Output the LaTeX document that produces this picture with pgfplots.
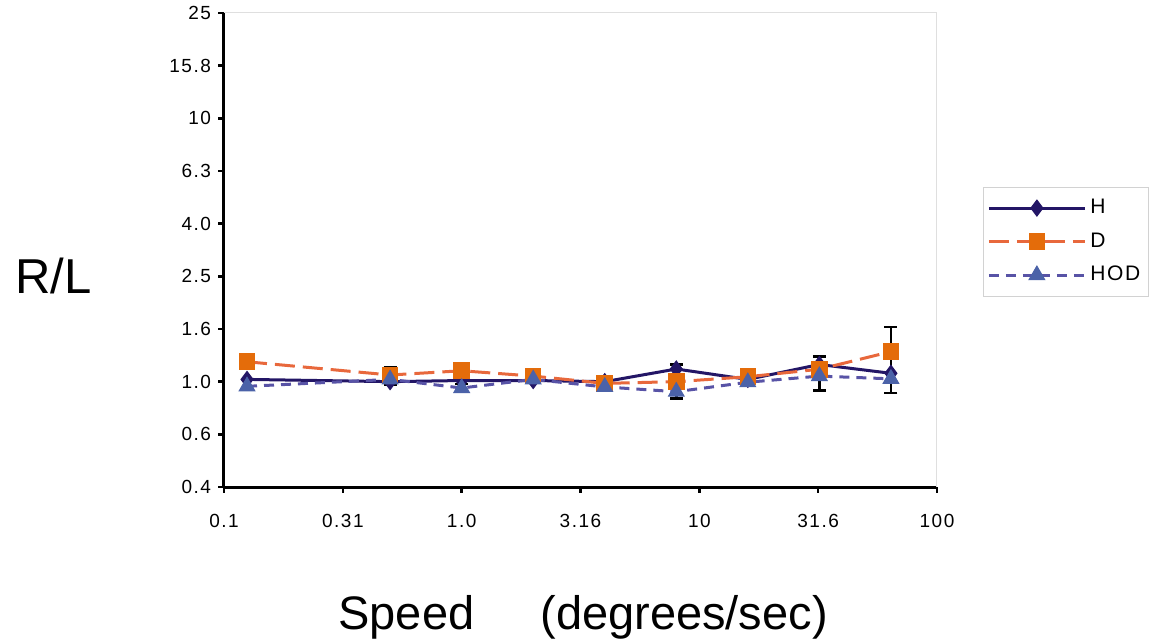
\documentclass[border=0pt]{standalone}
\usepackage{fontspec}
\setmainfont{Liberation Sans}
\newfontfamily\tickfont[LetterSpace=8]{Liberation Sans}
\usepackage{pgfplots}
\pgfplotsset{compat=1.18}
\definecolor{hcol}{HTML}{231666}
\definecolor{dmark}{HTML}{E46C0A}
\definecolor{dline}{HTML}{E8683C}
\definecolor{hodmark}{HTML}{4B62A8}
\definecolor{hodline}{HTML}{5853A6}

\begin{document}
\begin{tikzpicture}
\begin{axis}[
  at={(0,0)}, anchor=south west,
  scale only axis, width=356.5pt, height=237pt,
  xmode=log, ymode=log,
  xmin=0.1, xmax=100, ymin=0.398107, ymax=25.118864,
  axis x line*=bottom, axis y line*=left,
  axis line style={-, black, line width=1.5pt},
  tick align=outside, major tick length=3pt,
  tick style={black, line width=1.25pt},
  xtick={0.1,0.316228,1,3.16228,10,31.6228,100},
  xticklabels={0.1,0.31,1.0,3.16,\raisebox{-2.5pt}{10},31.6,100},
  ytick={0.398107,0.630957,1,1.584893,2.511886,3.981072,6.309573,10,15.848932,25.118864},
  yticklabels={0.4,0.6,1.0,1.6,2.5,4.0,6.3,10,15.8,25},
  minor xtick={}, minor ytick={},
  ticklabel style={font=\tickfont\fontsize{9.5}{11}\selectfont},
  xticklabel style={yshift=-7pt},
  /pgf/number format/assume math mode=true,
  legend style={at={(1.0645,0.633)}, anchor=north west, draw=gray!35,
    fill=white, font=\tickfont\fontsize{10.5}{12}\selectfont, row sep=4pt,
    inner xsep=2pt, inner ysep=4pt, cells={anchor=west}},
  legend image code/.code={\draw[mark repeat=2,mark phase=2,#1]
    plot coordinates {(0pt,0pt)(24pt,0pt)(48pt,0pt)};},
]
\draw[gray!25, line width=0.5pt] (rel axis cs:0,1) -- (rel axis cs:1,1) -- (rel axis cs:1,0);

% error bars (black, behind the markers)
\addplot[black, only marks, mark=*, mark size=0pt, forget plot,
  error bars/.cd, y dir=both, y explicit, error mark=|,
  error bar style={draw=black, line width=1.25pt},
  error mark options={draw=black, line width=1.25pt, mark size=3.25pt}]
coordinates {
  (0.5,1.0)   += (0,0.13)  -= (0,0.03)
  (1,1.01)    += (0,0.023) -= (0,0.03)
  (8,1.117)   += (0,0.047) -= (0,0.252)
  (32,1.162)  += (0,0.082) -= (0,0.238)
  (64,1.076)  += (0,0.534) -= (0,0.172)
};

\addplot[hcol, line width=1.5pt, mark=diamond*, mark size=4pt,
  mark options={solid, fill=hcol, line width=0.5pt}]
coordinates {
  (0.125,1.02) (0.5,1.0) (1,1.01) (2,1.01) (4,1.0)
  (8,1.117) (16,1.02) (32,1.162) (64,1.076)
};
\addlegendentry{H}

\addplot[dline, line width=1.5pt, dash pattern=on 10pt off 4pt,
  mark=square*, mark size=3.9pt,
  mark options={solid, draw=dmark, fill=dmark, line width=0.5pt}]
coordinates {
  (0.125,1.19) (0.5,1.06) (1,1.10) (2,1.05) (4,0.985)
  (8,1.0) (16,1.044) (32,1.115) (64,1.30)
};
\addlegendentry{D}

\addplot[hodline, line width=1.5pt, dash pattern=on 5pt off 3.5pt,
  mark=triangle*, mark size=4.5pt,
  mark options={solid, draw=hodmark, fill=hodmark, line width=0.5pt}]
coordinates {
  (0.125,0.96) (0.5,1.02) (1,0.946) (2,1.02) (4,0.955)
  (8,0.916) (16,0.995) (32,1.05) (64,1.025)
};
\addlegendentry{HOD}
\end{axis}

\node[anchor=base west, inner sep=0pt, font=\fontsize{24.5}{28}\selectfont] at (-104.5pt,97pt) {R/L};
\node[anchor=base west, inner sep=0pt, font=\fontsize{23.5}{27}\selectfont] at (57pt,-71pt) {Speed};
\node[anchor=base west, inner sep=0pt, font=\fontsize{23.5}{27}\selectfont] at (158pt,-71pt) {(degrees/sec)};

\pgfresetboundingbox
\path[use as bounding box] (-112pt,-76pt) rectangle (463pt,243.5pt);
\end{tikzpicture}
\end{document}
